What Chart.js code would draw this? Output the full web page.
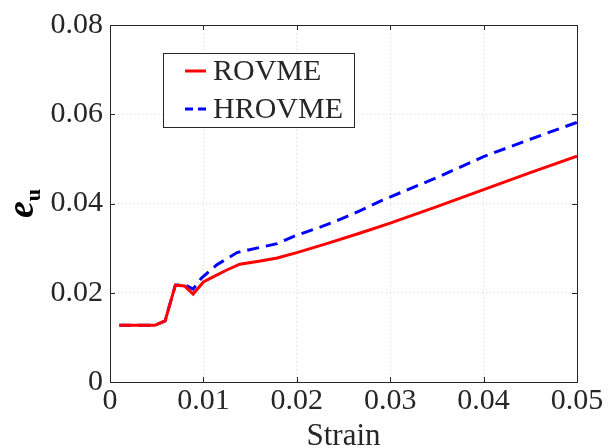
<!DOCTYPE html>
<html>
<head>
<meta charset="utf-8">
<script src="https://cdn.jsdelivr.net/npm/chart.js@4"></script>
<style>
  body { margin: 0; background: #fff; }
  #wrap { width: 608px; height: 448px; }
</style>
</head>
<body>
<div id="wrap"><canvas id="strainChart" width="608" height="448"></canvas></div>
<script>
// data
const strainRovme = [0.0010, 0.0020, 0.0030, 0.0040, 0.0048, 0.0059, 0.0070, 0.0080, 0.0089, 0.0100,
    0.0111, 0.0125, 0.0139, 0.0161, 0.0179, 0.0200, 0.0232, 0.0268, 0.0300, 0.0350, 0.0400, 0.0450, 0.0500];
const euRovme = [0.0127, 0.0127, 0.0127, 0.0127, 0.0127, 0.0137, 0.0217, 0.0215, 0.0197, 0.0224,
    0.0236, 0.0251, 0.0264, 0.0271, 0.0278, 0.0290, 0.0310, 0.0334, 0.0356, 0.0393, 0.0431, 0.0469, 0.0506];

const strainHrovme = [0.0010, 0.0020, 0.0030, 0.0040, 0.0048, 0.0059, 0.0070, 0.0080, 0.0089, 0.0098,
    0.0114, 0.0136, 0.0157, 0.0179, 0.0200, 0.0225, 0.0247, 0.0268, 0.0290, 0.0350, 0.0400, 0.0450, 0.0500];
const euHrovme = [0.0127, 0.0127, 0.0127, 0.0127, 0.0127, 0.0137, 0.0217, 0.0218, 0.0208, 0.0233,
    0.0262, 0.0290, 0.0300, 0.0310, 0.0329, 0.0347, 0.0365, 0.0384, 0.0406, 0.0458, 0.0505, 0.0544, 0.0582];

const seriesLabels = ['ROVME', 'HROVME'];
const xTicks = [0, 0.01, 0.02, 0.03, 0.04, 0.05];
const yTicks = [0, 0.02, 0.04, 0.06, 0.08];

const serif = "'Liberation Serif', 'Times New Roman', serif";
const axisColor = '#262626';

function toPoints(xs, ys) {
    return xs.map((x, i) => ({ x: x, y: ys[i] }));
}

function fmt(v) {
    return v === 0 ? '0' : v.toFixed(2);
}

// box around plot, inward tick marks, y label and legend
const boxPlugin = {
    id: 'matlabBox',
    afterDraw(chart) {
        const ctx = chart.ctx;
        const a = chart.chartArea;
        const xs = chart.scales.x, ys = chart.scales.y;
        ctx.save();
        ctx.strokeStyle = axisColor;
        ctx.lineWidth = 1;
        ctx.setLineDash([]);
        ctx.strokeRect(a.left + 0.5, a.top + 0.5, a.right - a.left, a.bottom - a.top);
        const t = 5;
        ctx.beginPath();
        xTicks.forEach(v => {
            const px = Math.round(xs.getPixelForValue(v)) + 0.5;
            ctx.moveTo(px, a.bottom); ctx.lineTo(px, a.bottom - t);
            ctx.moveTo(px, a.top); ctx.lineTo(px, a.top + t);
        });
        yTicks.forEach(v => {
            const py = Math.round(ys.getPixelForValue(v)) + 0.5;
            ctx.moveTo(a.left, py); ctx.lineTo(a.left + t, py);
            ctx.moveTo(a.right, py); ctx.lineTo(a.right - t, py);
        });
        ctx.stroke();

        // y axis label: e with bold subscript u
        ctx.translate(33, (a.top + a.bottom) / 2);
        ctx.rotate(-Math.PI / 2);
        ctx.fillStyle = '#000';
        ctx.textBaseline = 'alphabetic';
        ctx.font = 'italic bold 38px ' + serif;
        const ew = ctx.measureText('e').width;
        ctx.font = 'bold 22px ' + serif;
        const uw = ctx.measureText('u').width;
        const x0 = -(ew + uw) / 2;
        ctx.font = 'italic bold 38px ' + serif;
        ctx.fillText('e', x0, 0);
        ctx.font = 'bold 22px ' + serif;
        ctx.fillText('u', x0 + ew, 7);
        ctx.restore();

        // legend
        ctx.save();
        const lx = 163, ly = 53, lw = 191, lh = 74;
        ctx.fillStyle = '#fff';
        ctx.fillRect(lx, ly, lw, lh);
        ctx.strokeStyle = axisColor;
        ctx.lineWidth = 1;
        ctx.strokeRect(lx + 0.5, ly + 0.5, lw, lh);
        ctx.font = '30px ' + serif;
        ctx.textBaseline = 'middle';
        chart.data.datasets.forEach((ds, i) => {
            const cy = 71 + i * 38;
            ctx.strokeStyle = ds.borderColor;
            ctx.lineWidth = 3;
            ctx.setLineDash(ds.borderDash ? [8, 5] : []);
            ctx.beginPath();
            ctx.moveTo(185, cy);
            ctx.lineTo(206, cy);
            ctx.stroke();
            ctx.fillStyle = '#262626';
            ctx.fillText(ds.label, 213, cy + 1);
        });
        ctx.restore();
    }
};

const ctx = document.getElementById('strainChart').getContext('2d');
const chart = new Chart(ctx, {
    type: 'line',
    data: {
        datasets: [{
            label: seriesLabels[0],
            data: toPoints(strainRovme, euRovme),
            borderColor: '#ff0000',
            borderWidth: 3,
            pointRadius: 0,
            tension: 0,
            fill: false
        }, {
            label: seriesLabels[1],
            data: toPoints(strainHrovme, euHrovme),
            borderColor: '#0000ff',
            borderWidth: 3,
            borderDash: [12, 7],
            pointRadius: 0,
            tension: 0,
            fill: false
        }]
    },
    options: {
        responsive: false,
        animation: false,
        layout: { padding: { top: 20, right: 31, left: 0, bottom: 0 } },
        plugins: {
            legend: { display: false },
            tooltip: { enabled: false }
        },
        scales: {
            x: {
                type: 'linear',
                min: 0,
                max: 0.05,
                afterBuildTicks: s => { s.ticks = xTicks.map(v => ({ value: v })); },
                afterFit: s => { s.height = 66; },
                ticks: {
                    callback: v => fmt(v),
                    color: axisColor,
                    font: { family: serif, size: 30 },
                    padding: 1,
                    maxRotation: 0
                },
                grid: { color: '#d8d8d8', drawTicks: false, lineWidth: 1 },
                border: { display: false, dash: [1, 3] },
                title: {
                    display: true,
                    text: 'Strain',
                    color: axisColor,
                    font: { family: serif, size: 31 },
                    padding: { top: 0, bottom: -7 }
                }
            },
            y: {
                min: 0,
                max: 0.08,
                afterBuildTicks: s => { s.ticks = yTicks.map(v => ({ value: v })); },
                afterFit: s => { s.width = 110; },
                ticks: {
                    callback: v => fmt(v),
                    color: axisColor,
                    font: { family: serif, size: 30 },
                    padding: 7
                },
                grid: { color: '#d8d8d8', drawTicks: false, lineWidth: 1 },
                border: { display: false, dash: [1, 3] }
            }
        }
    },
    plugins: [boxPlugin]
});
</script>
</body>
</html>
